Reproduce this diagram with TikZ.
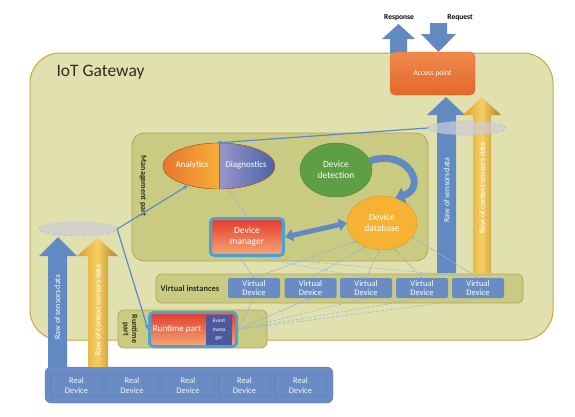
\documentclass[tikz,border=0pt]{standalone}
\usepackage{fontspec}
\setmainfont{Carlito}
\usetikzlibrary{arrows.meta,shapes.geometric,calc}
\definecolor{gwfill}{HTML}{E0E1AE}
\definecolor{gwline}{HTML}{C9A447}
\definecolor{mgfill}{HTML}{CACB82}
\definecolor{mgline}{HTML}{B9A452}
\definecolor{blu}{HTML}{6A8CC4}
\definecolor{bluarrow}{HTML}{628AC2}
\definecolor{bluline}{HTML}{5B8AC8}
\definecolor{thinblue}{HTML}{93B4D8}
\definecolor{gold1}{HTML}{D9A02E}
\definecolor{gold2}{HTML}{F6CF62}
\definecolor{apor1}{HTML}{EE8A4C}
\definecolor{apor2}{HTML}{E4672A}
\definecolor{ddgreen}{HTML}{5E9E45}
\definecolor{dbor}{HTML}{F6B232}
\definecolor{red1}{HTML}{E53A2A}
\definecolor{red2}{HTML}{F5A878}
\definecolor{frameblue}{HTML}{4BA3D3}
\definecolor{emblue}{HTML}{4A5A9E}
\definecolor{an1}{HTML}{E8752E}
\definecolor{an2}{HTML}{F6AE36}
\definecolor{dg1}{HTML}{9A96CB}
\definecolor{dg2}{HTML}{4662A6}
\definecolor{darktext}{HTML}{2E2E1C}
\newcommand\fsz[2]{\fontsize{#1}{#2}\selectfont}
\newcommand\fatup[8]{%
  \path[#8] (#1,#7) -- (#1,#6) -- (#3,#6) -- ({(#3+#4)/2},#5) -- (#4,#6) -- (#2,#6) -- (#2,#7) -- cycle;}
\tikzset{
  panel/.style={rounded corners=8pt, fill=mgfill, draw=mgline, line width=0.8pt},
  vdev/.style={rounded corners=2pt, fill=blu, text=white, minimum width=52pt, minimum height=20pt, inner sep=0pt, font=\fsz{8.5}{9.5}, align=center},
  rdev/.style={vdev, minimum height=21pt, draw=blu!80!black, line width=0.4pt, text=white!92!blu},
  arrowtext/.style={text=white, font=\fsz{8}{9}},
  conn/.style={draw=bluline, line width=1.2pt, -{Stealth[length=5pt,width=4pt]}},
  thinc/.style={draw=thinblue, line width=0.5pt, -{Stealth[length=3pt,width=2.5pt]}},
  thind/.style={thinc, dash pattern=on 3pt off 1.5pt},
  hubell/.style={ellipse, minimum width=78pt, minimum height=14pt, inner sep=0pt, fill=blue!12!gray!35, fill opacity=0.7, draw=bluline!60, dashed, line width=0.4pt},
  whitetxt/.style={text=white, align=center, font=\fsz{9}{10.5}},
  framed/.style={rounded corners=4pt, draw=frameblue, line width=3pt, top color=red1, bottom color=red2}
}
\begin{document}
\begin{tikzpicture}[x=1pt,y=-1pt]
\useasboundingbox[fill=white] (0,0) rectangle (575,416);

% gateway
\draw[rounded corners=30pt, fill=gwfill, draw=gwline, line width=1pt] (30,53) rectangle (553,340);
\node[anchor=west, font=\fsz{17.5}{20}, text=darktext] (gwt) at (53,72) {IoT Gateway};

% response / request arrows
\fatup{390}{407}{382}{415}{24}{39}{53}{fill=bluarrow}
\path[fill=bluarrow] (430,23) -- (430,34) -- (421,34) -- (438.5,52) -- (456,34) -- (447,34) -- (447,23) -- cycle;
\node[font=\bfseries\fsz{7.5}{8.5}] (resp) at (399,18) {Response};
\node[font=\bfseries\fsz{7.5}{8.5}] (req) at (460,18) {Request};

% access point
\node[rounded corners=5pt, top color=apor1, bottom color=apor2, draw=apor2, minimum width=85pt, minimum height=43pt, text=white, font=\fsz{7.5}{9}] (ap) at (432.5,73.5) {Access point};

% management part
\draw[panel, rounded corners=12pt] (132,133) rectangle (428,261);
\node[rotate=-90, font=\bfseries\fsz{8}{9}, text=darktext] (mgt) at (143,186) {Management part};

% virtual instances
\draw[panel, rounded corners=6pt] (156,274) rectangle (523,303);
\node[font=\bfseries\fsz{8.5}{9.5}, text=darktext] (vit) at (190,289) {Virtual instances};
\node[vdev] (vd1) at (254,288) {Virtual\\Device};
\node[vdev] (vd2) at (310.5,288) {Virtual\\Device};
\node[vdev] (vd3) at (366,288) {Virtual\\Device};
\node[vdev] (vd4) at (422,288) {Virtual\\Device};
\node[vdev] (vd5) at (478,288) {Virtual\\Device};

% runtime part
\draw[panel, rounded corners=6pt] (118,310) rectangle (267,348);
\node[rotate=-90, font=\bfseries\fsz{8}{8.5}, text=darktext, align=center] (rtt) at (130,329) {Runtime\\part};
\node[framed, minimum width=87pt, minimum height=34pt, inner sep=0pt] (rt) at (193,329.5) {};
\node[whitetxt, font=\fsz{9}{10}] (rtx) at (177,329.5) {Runtime part};
\node[fill=emblue, minimum width=26pt, minimum height=30pt, inner sep=0pt, text=white, align=center, font=\fsz{5.5}{8.5}] (em) at (219,330) {Event\\mana\\ger};

% right fat arrows
\fatup{437}{456}{427}{465}{97}{115}{273}{fill=bluarrow}
\node[arrowtext, rotate=90] (rsd2) at (446.5,190) {Raw of sensors data};
\fatup{473}{491}{463}{501}{97}{115}{273}{left color=gold1, right color=gold1!80!black, middle color=gold2}
\node[arrowtext, rotate=90] (rcd2) at (482,188) {Raw of context sensors data};

% real devices
\draw[rounded corners=6pt, fill=blu, draw=blu!90!black] (45,367) rectangle (333,403);
\node[rdev] (rd1) at (76.5,385.5) {Real\\Device};
\node[rdev] (rd2) at (132,385.5) {Real\\Device};
\node[rdev] (rd3) at (188,385.5) {Real\\Device};
\node[rdev] (rd4) at (244.5,385.5) {Real\\Device};
\node[rdev] (rd5) at (300.5,385.5) {Real\\Device};

% left fat arrows
\fatup{48}{67}{39}{77}{237}{256}{367}{fill=bluarrow}
\node[arrowtext, rotate=90] (rsd1) at (57.5,307) {Raw of sensors data};
\fatup{88}{108}{77}{118}{238}{256}{367}{left color=gold1, right color=gold1!80!black, middle color=gold2}
\node[arrowtext, rotate=90] (rcd1) at (98,310) {Raw of context sensors data};

% analytics / diagnostics
\begin{scope}
  \clip (219,166) ellipse [x radius=56, y radius=23];
  \fill[left color=an1, right color=an2] (162,142) rectangle (219,190);
  \fill[left color=dg1, right color=dg2] (219,142) rectangle (276,190);
\end{scope}
\node[ellipse, minimum width=112pt, minimum height=46pt, inner sep=0pt, draw=an1!80!black, line width=0.4pt] (an) at (219,166) {};
\draw[an1!80!black, line width=0.4pt] (an.north) -- (an.south);
\node[whitetxt] (ant) at (192,165) {Analytics};
\node[whitetxt] (dgt) at (246,165) {Diagnostics};

% device detection
\node[ellipse, minimum width=72pt, minimum height=54pt, inner sep=0pt, fill=ddgreen, draw=ddgreen!80!black, line width=0.4pt, whitetxt, font=\fsz{9.5}{11}] (dd) at (336,170) {Device\\detection};

% device database
\node[ellipse, minimum width=70pt, minimum height=54pt, inner sep=0pt, fill=dbor, draw=dbor!85!black, line width=0.4pt, whitetxt, font=\fsz{9.5}{11}] (db) at (382,223) {Device\\database};

% device manager
\node[framed, minimum width=73pt, minimum height=37pt, inner sep=0pt, whitetxt, font=\fsz{9.5}{11}] (dm) at (247,237) {Device\\manager};

% curved arrow detection -> database
\draw[bluarrow, line width=7pt, -{Triangle[length=9pt,width=16pt]}] (dd.15) .. controls (408,148) and (428,188) .. (db.62);

% double arrow manager <-> database
\draw[bluarrow, line width=5pt, {Triangle[length=8pt,width=12pt]}-{Triangle[length=8pt,width=12pt]}] (dm.east) -- (db.west);

% thin connectors
\draw[thinc] (an.-70) -- (dm.north);
\draw[thinc] (rt.east) -- (vd1.south);
\draw[thinc] (rt.east) -- (vd2.south);
\draw[thind] (rt.east) -- (vd3.south);
\draw[thind] (rt.east) -- (vd4.south);
\draw[thind] (rt.east) -- (vd5.south);
\draw[thinc] (vd1.north) -- (db.215);
\draw[thinc] (vd2.north) -- (db.235);
\draw[thinc] (vd3.north) -- (db.265);
\draw[thinc] (vd4.north) -- (db.295);
\draw[thinc] (vd5.north) -- (db.335);
\draw[thinc] (dm.250) -- (vd1.north);
\draw[thind] (dm.290) -- (vd3.north);
\draw[thind] (dm.300) -- (vd5.north);

% hub ellipses
\node[hubell] (ell1) at (78,229) {};
\node[hubell] (ell2) at (467,128) {};

% hub connectors
\draw[conn] (ell1.east) -- (an.212);
\draw[conn] (ell1.east) -- (rt.west);
\draw[conn] (ell2.west) -- (an.95);
\end{tikzpicture}
\end{document}
